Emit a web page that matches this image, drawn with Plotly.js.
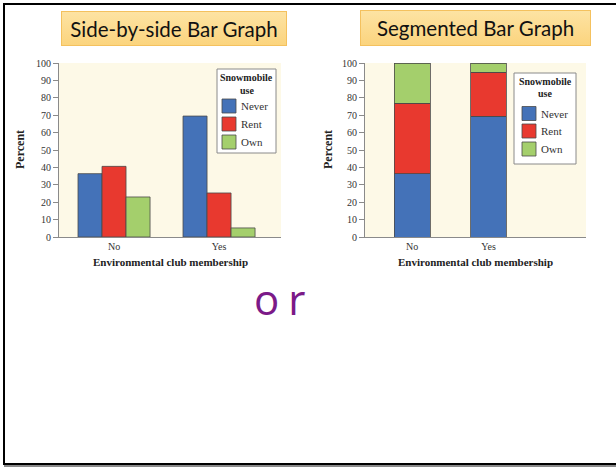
<!DOCTYPE html>
<html>
<head>
<meta charset="utf-8">
<script src="https://cdn.plot.ly/plotly-3.0.1.min.js"></script>
<style>
  html, body { margin:0; padding:0; background:#ffffff; }
  #page { position:relative; width:616px; height:467px; overflow:hidden; background:#ffffff; }
  #frame { position:absolute; left:3px; top:3px; width:720px; height:458px;
           border-left:2px solid #000; border-top:2px solid #000; border-bottom:2px solid #000;
           box-shadow: 1px 3px 0 #8a8a8a; }
  .tbox { position:absolute; box-sizing:border-box; border:1px solid #f4c15e;
          background:linear-gradient(#fde3a3, #fbd47e); font-family:Lato, "Open Sans", sans-serif;
          font-size:20.5px; color:#111; text-align:center; line-height:34px; }
  #t1 { left:61px; top:11px; width:226px; height:35px; }
  #t2 { left:360px; top:10px; width:231px; height:36px; }
  #c1 { position:absolute; left:0; top:0; width:308px; height:280px; }
  #c2 { position:absolute; left:308px; top:0; width:308px; height:280px; }
  #or { position:absolute; left:254px; top:278px; font-family:"Open Sans", "DejaVu Sans", sans-serif;
        font-weight:400; font-size:42px; line-height:42px; letter-spacing:9px; color:#7b1a88; }
</style>
</head>
<body>
<div id="page">
  <div id="frame"></div>
  <div id="c1"></div>
  <div id="c2"></div>
  <div class="tbox" id="t1">Side-by-side Bar Graph</div>
  <div class="tbox" id="t2">Segmented Bar Graph</div>
  <div id="or">or</div>
</div>
<script>
const categories = ["No", "Yes"];
const seriesNames = ["Never", "Rent", "Own"];
const never = [36.4, 69.5];
const rent = [40.6, 25.3];
const own = [23.0, 5.2];
const yTicks = [0, 10, 20, 30, 40, 50, 60, 70, 80, 90, 100];
const legendTitle = ["Snowmobile", "use"];
const colors = ["#4472b8", "#e8392f", "#a4cf6c"];
const values = [never, rent, own];

const serif = "Liberation Serif, Times New Roman, serif";

function makeTraces(width) {
  return values.map((v, i) => {
    const t = {
      type: "bar", x: categories, y: v, name: seriesNames[i], showlegend: false,
      marker: { color: colors[i], line: { color: "#4a4a4a", width: 0.8 } },
      hoverinfo: "none"
    };
    if (width) t.width = width;
    return t;
  });
}

// geometry of a plot within its own div (pixels)
function makeLayout(g) {
  const W = 308, H = 280;
  const pw = W - g.l - g.r, ph = H - g.t - g.b;
  const px = x => (x - g.l) / pw;          // div px -> paper x
  const py = y => (H - g.b - y) / ph;      // div px -> paper y
  const shapes = [];
  const ann = [];
  // legend box
  const L = g.leg;
  shapes.push({ type: "rect", xref: "paper", yref: "paper", x0: px(L.x0), x1: px(L.x1), y0: py(L.y0), y1: py(L.y1),
    fillcolor: "#ffffff", line: { color: "#8a8a8a", width: 1 } });
  const cx = (L.x0 + L.x1) / 2;
  legendTitle.forEach((s, k) => ann.push({
    text: "<b>" + s + "</b>", xref: "paper", yref: "paper", x: px(cx), y: py(L.titleY[k]),
    xanchor: "center", yanchor: "middle", showarrow: false,
    font: { family: serif, size: 10, color: "#222" } }));
  seriesNames.forEach((s, k) => {
    const yc = L.itemY[k];
    shapes.push({ type: "rect", xref: "paper", yref: "paper",
      x0: px(L.sx), x1: px(L.sx + 14), y0: py(yc + 7), y1: py(yc - 7),
      fillcolor: colors[k], line: { color: "#4a4a4a", width: 0.8 } });
    ann.push({ text: s, xref: "paper", yref: "paper", x: px(L.tx), y: py(yc),
      xanchor: "left", yanchor: "middle", showarrow: false,
      font: { family: serif, size: 11, color: "#333" } });
  });
  ann.push({ text: "<b>Percent</b>", xref: "paper", yref: "paper", x: px(20), y: py(150),
    xanchor: "center", yanchor: "middle", textangle: -90, showarrow: false,
    font: { family: serif, size: 12, color: "#222" } });
  ann.push({ text: "<b>Environmental club membership</b>", xref: "paper", yref: "paper", x: px(g.xTitleX), y: py(262),
    xanchor: "center", yanchor: "middle", showarrow: false,
    font: { family: serif, size: 11, color: "#222" } });
  return {
    width: W, height: H,
    margin: { l: g.l, r: g.r, t: g.t, b: g.b },
    paper_bgcolor: "rgba(0,0,0,0)",
    plot_bgcolor: "#fdf9e7",
    showlegend: false,
    xaxis: {
      type: "category", categoryarray: categories, range: g.xrange,
      showline: true, linecolor: "#8a8a8a", linewidth: 1, ticks: "",
      tickfont: { family: serif, size: 10, color: "#333" }, showgrid: false, zeroline: false,
      fixedrange: true
    },
    yaxis: {
      range: [0, 100], tickvals: yTicks, ticktext: yTicks.map(String),
      showline: true, linecolor: "#8a8a8a", linewidth: 1, ticks: "outside", ticklen: 5,
      tickcolor: "#8a8a8a", tickfont: { family: serif, size: 10, color: "#333" },
      showgrid: false, zeroline: false, fixedrange: true
    },
    shapes: shapes,
    annotations: ann
  };
}

const l1 = makeLayout({ l: 59, r: 27, t: 63, b: 43, xrange: [-0.524, 1.59], xTitleX: 170,
  leg: { x0: 217, x1: 276, y0: 69, y1: 153, titleY: [78, 90], sx: 222, tx: 239, itemY: [106, 124, 142] } });
l1.barmode = "group";
l1.bargap = 0.314;
l1.bargroupgap = 0;
Plotly.newPlot("c1", makeTraces(null), l1, { displayModeBar: false, staticPlot: true });

const l2 = makeLayout({ l: 57, r: 30, t: 63, b: 43, xrange: [-0.615, 2.275], xTitleX: 167,
  leg: { x0: 206, x1: 268, y0: 73, y1: 164, titleY: [81, 93], sx: 214, tx: 231, itemY: [113.5, 131, 149] } });
l2.barmode = "stack";
Plotly.newPlot("c2", makeTraces(0.47), l2, { displayModeBar: false, staticPlot: true });
</script>
</body>
</html>
